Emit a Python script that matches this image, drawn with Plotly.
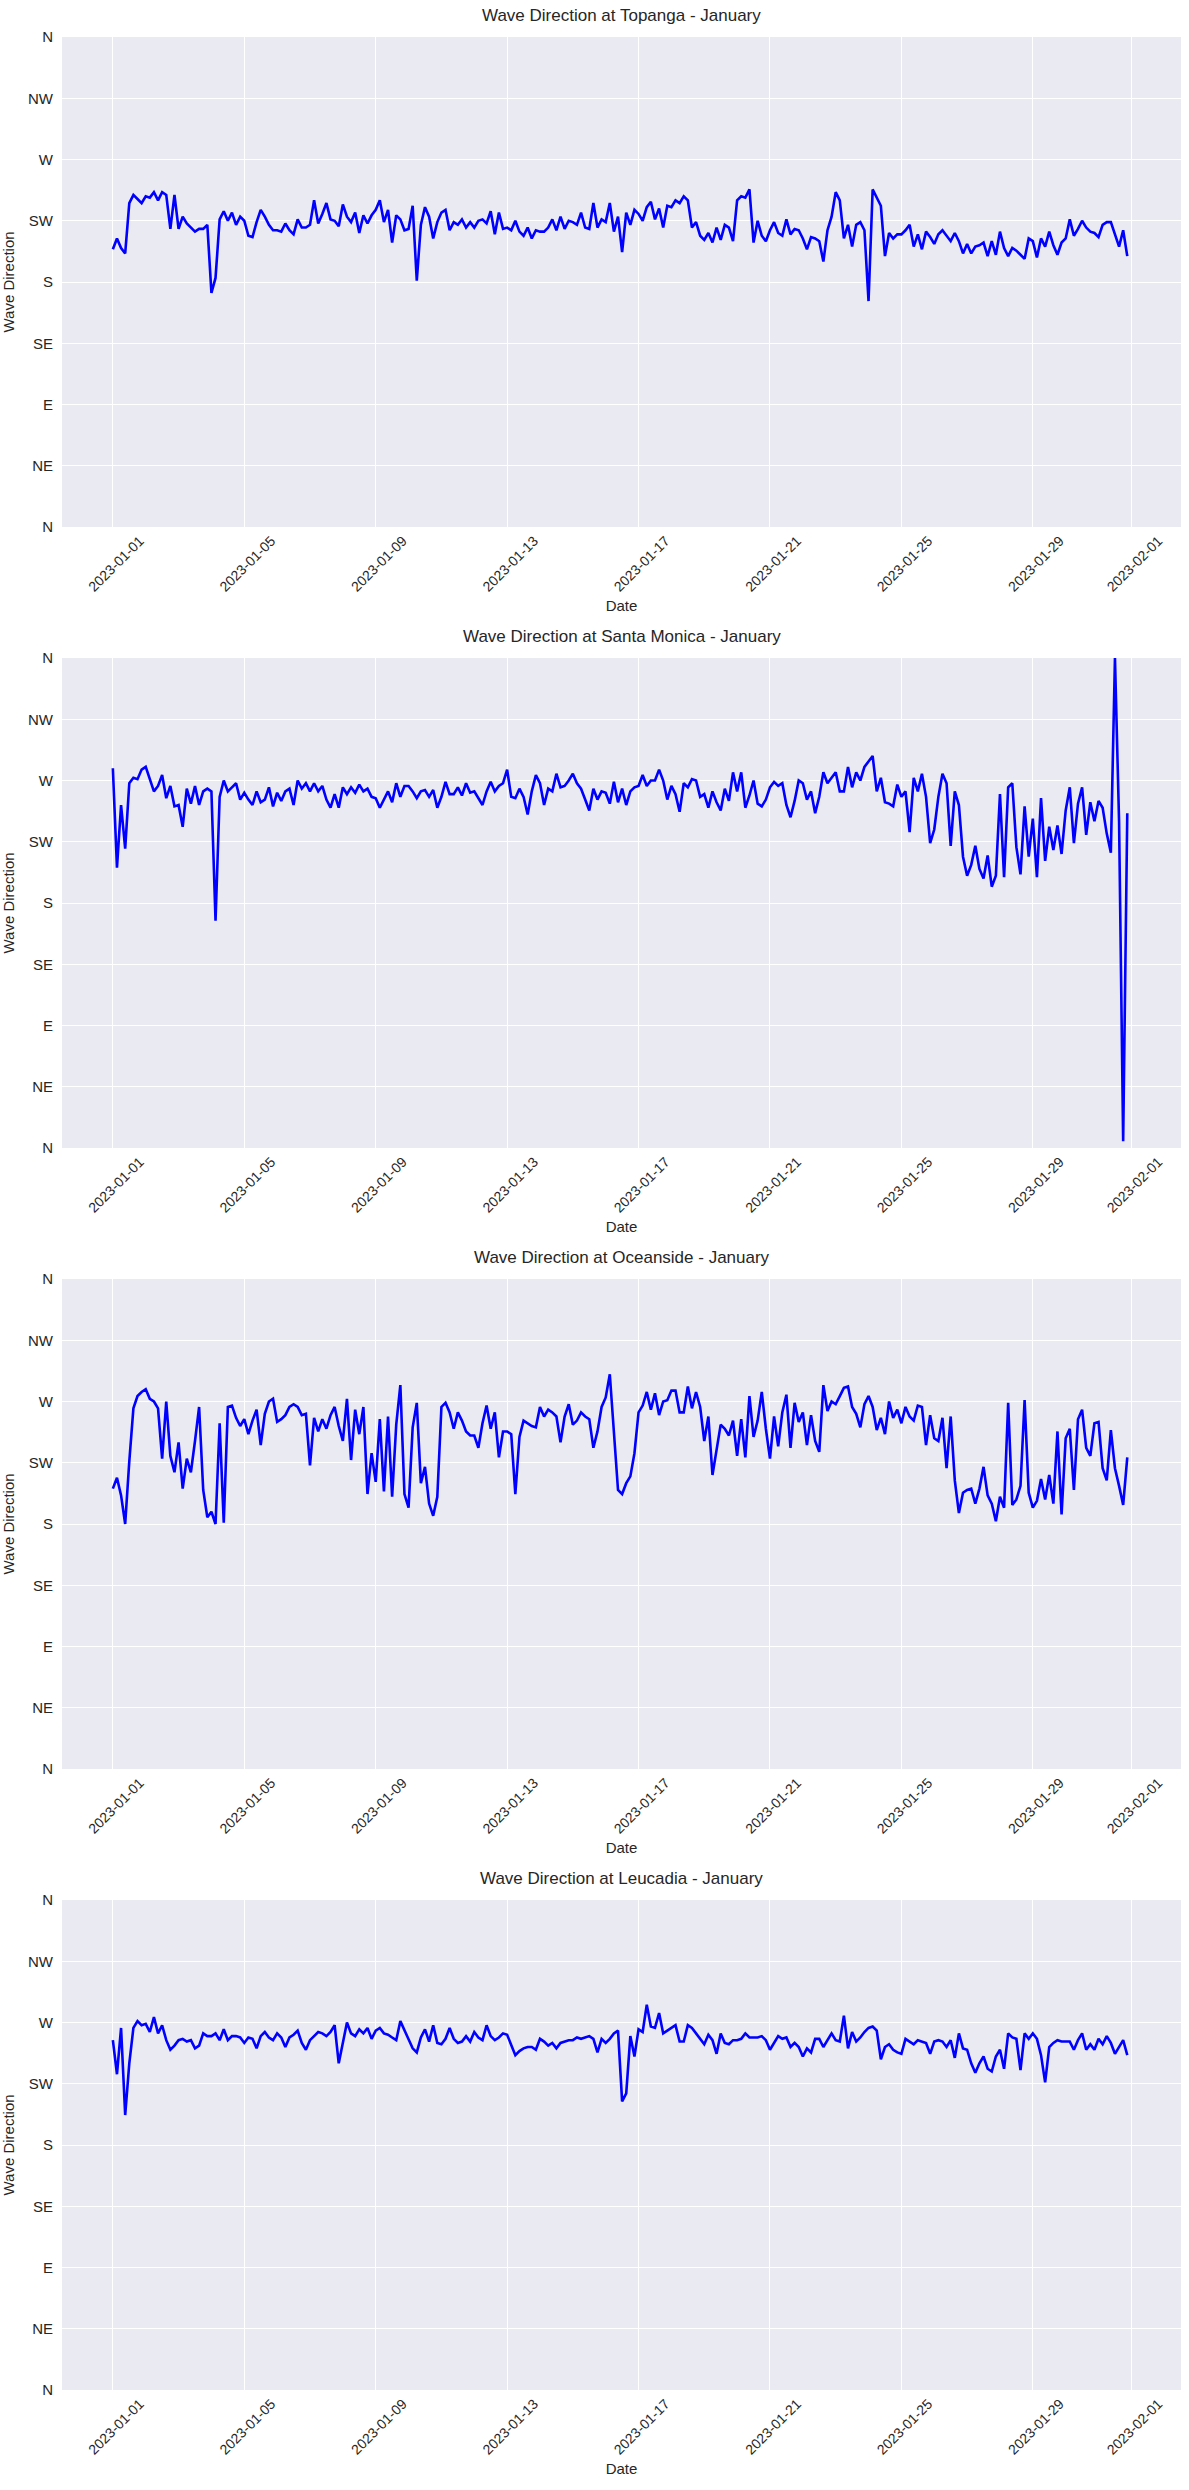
import pandas as pd
import plotly.graph_objects as go
from plotly.subplots import make_subplots

# ---------------- data (3-hourly wave direction, degrees) ----------------
times = pd.date_range("2023-01-01", periods=248, freq="3h")

topanga = [
    204, 212, 205, 201, 238, 244, 241, 238,
    243, 242, 246, 240, 246, 244, 219, 244,
    219, 228, 223, 220, 217, 219, 219, 222,
    172, 183, 226, 232, 225, 231, 222, 228,
    225, 214, 213, 224, 233, 228, 222, 218,
    218, 217, 223, 218, 215, 226, 220, 220,
    222, 240, 223, 230, 238, 226, 225, 221,
    237, 228, 224, 231, 216, 229, 223, 229,
    233, 240, 224, 233, 209, 229, 226, 218,
    219, 236, 181, 222, 235, 228, 212, 224,
    231, 233, 218, 224, 222, 226, 220, 224,
    220, 225, 226, 223, 232, 215, 231, 219,
    220, 218, 225, 217, 214, 220, 212, 218,
    217, 217, 220, 226, 218, 228, 219, 225,
    224, 222, 231, 220, 219, 238, 220, 226,
    224, 238, 217, 228, 202, 231, 222, 233,
    230, 225, 235, 239, 226, 234, 220, 236,
    235, 240, 238, 243, 240, 220, 224, 214,
    211, 216, 209, 220, 211, 222, 220, 210,
    240, 243, 242, 248, 209, 225, 214, 210,
    218, 224, 216, 214, 226, 215, 219, 218,
    212, 204, 213, 212, 210, 195, 218, 228,
    246, 240, 212, 222, 206, 222, 224, 218,
    166, 248, 242, 236, 199, 216, 212, 215,
    215, 218, 222, 206, 215, 204, 217, 213,
    208, 215, 218, 214, 210, 216, 210, 201,
    208, 201, 206, 207, 209, 199, 210, 200,
    217, 205, 199, 205, 203, 200, 197, 212,
    210, 198, 212, 206, 217, 207, 200, 209,
    212, 226, 214, 219, 225, 220, 217, 216,
    213, 222, 224, 224, 215, 206, 218, 199,
]

santa_monica = [
    279, 206, 252, 220, 268, 272, 271, 278,
    280, 271, 262, 266, 274, 257, 266, 251,
    252, 236, 264, 253, 266, 252, 262, 264,
    262, 167, 258, 270, 262, 265, 268, 256,
    261, 256, 252, 262, 254, 256, 265, 251,
    261, 255, 262, 264, 252, 270, 264, 268,
    262, 268, 262, 266, 256, 250, 260, 250,
    265, 260, 265, 261, 267, 262, 264, 258,
    257, 250, 256, 262, 254, 268, 258, 266,
    266, 262, 257, 262, 263, 258, 263, 250,
    258, 269, 260, 260, 265, 259, 268, 261,
    262, 257, 252, 262, 269, 262, 266, 268,
    278, 258, 257, 264, 258, 245, 262, 274,
    268, 252, 264, 262, 275, 265, 266, 270,
    275, 268, 264, 256, 248, 264, 256, 262,
    261, 253, 269, 254, 264, 252, 262, 265,
    266, 274, 266, 270, 270, 278, 270, 256,
    266, 260, 247, 268, 265, 271, 270, 258,
    260, 250, 262, 254, 248, 264, 255, 276,
    262, 276, 250, 259, 270, 253, 251, 256,
    265, 269, 266, 268, 252, 243, 255, 270,
    268, 256, 262, 246, 258, 276, 268, 272,
    276, 262, 262, 280, 265, 276, 270, 280,
    284, 288, 262, 272, 254, 253, 251, 267,
    258, 262, 232, 272, 262, 275, 258, 224,
    234, 258, 275, 268, 222, 262, 252, 214,
    200, 208, 222, 205, 198, 215, 192, 200,
    260, 199, 265, 268, 221, 201, 251, 214,
    242, 199, 257, 211, 236, 219, 237, 216,
    248, 265, 224, 253, 265, 230, 254, 240,
    255, 250, 231, 217, 360, 240, 5, 246,
]

oceanside = [
    206, 214, 201, 180, 226, 265, 274, 277,
    279, 272, 270, 265, 228, 270, 230, 218,
    240, 206, 228, 218, 241, 266, 205, 185,
    189, 180, 254, 181, 266, 267, 258, 252,
    257, 246, 256, 264, 238, 261, 270, 272,
    255, 257, 260, 266, 268, 266, 260, 261,
    223, 258, 248, 257, 250, 260, 266, 252,
    241, 272, 227, 264, 246, 266, 202, 232,
    211, 257, 204, 259, 200, 253, 282, 202,
    192, 251, 269, 210, 222, 195, 186, 200,
    266, 269, 262, 250, 262, 256, 248, 245,
    245, 236, 254, 267, 250, 262, 229, 248,
    248, 246, 202, 244, 256, 254, 252, 251,
    266, 259, 264, 262, 259, 240, 259, 268,
    253, 256, 262, 259, 257, 236, 248, 266,
    273, 290, 250, 205, 202, 210, 215, 232,
    262, 267, 277, 264, 276, 260, 270, 271,
    278, 278, 262, 262, 281, 265, 277, 266,
    241, 259, 216, 234, 253, 250, 245, 256,
    230, 257, 229, 274, 244, 256, 277, 250,
    228, 259, 237, 262, 275, 236, 269, 255,
    262, 238, 260, 241, 233, 282, 263, 270,
    268, 274, 280, 281, 266, 261, 251, 268,
    274, 266, 249, 258, 246, 270, 258, 264,
    254, 266, 259, 256, 267, 266, 238, 260,
    243, 241, 258, 221, 259, 212, 188, 203,
    205, 206, 195, 206, 222, 201, 195, 182,
    200, 192, 269, 194, 198, 208, 271, 203,
    192, 197, 213, 198, 216, 195, 248, 187,
    243, 250, 205, 257, 264, 236, 230, 254,
    255, 221, 212, 249, 221, 208, 194, 229,
]

leucadia = [
    257, 232, 266, 202, 240, 266, 271, 268,
    269, 263, 274, 262, 268, 257, 250, 253,
    257, 258, 256, 257, 251, 253, 262, 260,
    260, 262, 257, 265, 257, 260, 260, 259,
    255, 259, 258, 251, 260, 263, 259, 257,
    262, 259, 252, 259, 261, 264, 255, 250,
    257, 260, 263, 262, 260, 263, 268, 240,
    256, 270, 262, 260, 265, 262, 266, 258,
    264, 266, 262, 261, 259, 257, 271, 264,
    257, 251, 248, 259, 265, 256, 268, 255,
    254, 258, 266, 258, 255, 256, 260, 256,
    263, 259, 257, 268, 260, 257, 259, 262,
    261, 254, 246, 249, 251, 252, 252, 250,
    258, 256, 253, 255, 251, 255, 256, 257,
    257, 259, 258, 259, 260, 258, 248, 258,
    255, 258, 262, 264, 212, 218, 260, 245,
    265, 263, 283, 267, 266, 277, 262, 264,
    266, 268, 256, 256, 268, 266, 262, 258,
    254, 261, 257, 247, 262, 255, 254, 257,
    257, 258, 262, 259, 259, 259, 260, 257,
    250, 255, 260, 258, 259, 252, 255, 252,
    245, 251, 248, 258, 258, 252, 257, 262,
    257, 256, 275, 251, 263, 256, 259, 263,
    266, 267, 264, 243, 252, 254, 250, 248,
    247, 258, 256, 254, 257, 256, 255, 247,
    256, 257, 256, 252, 257, 244, 262, 251,
    250, 240, 233, 240, 245, 236, 234, 245,
    250, 236, 262, 259, 258, 235, 262, 258,
    262, 258, 246, 226, 252, 255, 257, 256,
    256, 256, 250, 257, 262, 250, 254, 250,
    258, 254, 260, 255, 247, 252, 257, 246,
]

stations = ["Topanga", "Santa Monica", "Oceanside", "Leucadia"]
series = [topanga, santa_monica, oceanside, leucadia]

direction_ticks = [0, 45, 90, 135, 180, 225, 270, 315, 360]
direction_labels = ["N", "NE", "E", "SE", "S", "SW", "W", "NW", "N"]
date_ticks = ["2023-01-01", "2023-01-05", "2023-01-09", "2023-01-13", "2023-01-17",
              "2023-01-21", "2023-01-25", "2023-01-29", "2023-02-01"]

# ---------------- figure ----------------
W, H = 1189, 2490
M_L, M_R, M_T, M_B = 62, 8, 37, 100
plot_h = H - M_T - M_B
gap = 131
fig = make_subplots(rows=4, cols=1, vertical_spacing=gap / plot_h)

t0 = pd.Timestamp("2023-01-01")
x_range = [t0 - pd.Timedelta(days=1.548), t0 + pd.Timedelta(days=32.51)]

FONT = "Liberation Sans, Arial, Helvetica, sans-serif"
TXT = "#262626"
BG = "#EAEAF2"

for i, (name, vals) in enumerate(zip(stations, series)):
    r = i + 1
    fig.add_trace(go.Scatter(x=times, y=vals, mode="lines",
                             line=dict(color="blue", width=2.6),
                             showlegend=False, hoverinfo="x+y"),
                  row=r, col=1)
    fig.update_xaxes(row=r, col=1, range=x_range, type="date",
                     tickvals=date_ticks, ticktext=date_ticks,
                     tickangle=-45, tickfont=dict(size=14, color=TXT, family=FONT),
                     ticklabelshift=27, ticklabelstandoff=2,
                     showgrid=True, gridcolor="white", gridwidth=1.2,
                     zeroline=False, showline=False, ticks="",
                     title=dict(text="Date", font=dict(size=15, color=TXT, family=FONT),
                                standoff=6))
    fig.update_yaxes(row=r, col=1, range=[0, 360],
                     tickvals=direction_ticks, ticktext=direction_labels,
                     tickfont=dict(size=15, color=TXT, family=FONT),
                     ticklabelstandoff=8,
                     showgrid=True, gridcolor="white", gridwidth=1.2,
                     zeroline=False, showline=False, ticks="",
                     title=dict(text="Wave Direction",
                                font=dict(size=15, color=TXT, family=FONT),
                                standoff=9))

    yax = fig.layout["yaxis" + ("" if r == 1 else str(r))]
    top = yax.domain[1]
    fig.add_annotation(text=f"Wave Direction at {name} - January",
                       x=0.5, xref="paper", y=top, yref="paper",
                       xanchor="center", yanchor="bottom", yshift=10,
                       showarrow=False,
                       font=dict(size=17, color=TXT, family=FONT))

fig.update_layout(width=W, height=H,
                  margin=dict(l=M_L, r=M_R, t=M_T, b=M_B, autoexpand=False),
                  paper_bgcolor="white", plot_bgcolor=BG,
                  font=dict(family=FONT, color=TXT))

fig.write_html("out.html")
